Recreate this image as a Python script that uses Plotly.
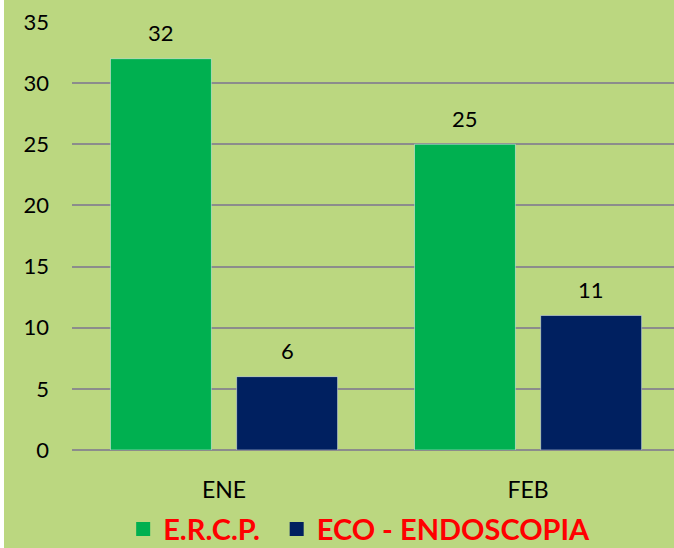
import plotly.graph_objects as go

MESES = ['ENE', 'FEB']
ERCP = [32, 25]
ECO_ENDOSCOPIA = [6, 11]

COLOR_ERCP = '#00B050'
COLOR_ECO = '#002060'
COLOR_BG = '#BBD780'
FONT = 'Lato, Open Sans, sans-serif'

fig = go.Figure()
fig.add_trace(go.Bar(
    name='E.R.C.P.',
    x=MESES,
    y=ERCP,
    marker_color=COLOR_ERCP,
    showlegend=False,
))
fig.add_trace(go.Bar(
    name='ECO - ENDOSCOPIA',
    x=MESES,
    y=ECO_ENDOSCOPIA,
    marker_color=COLOR_ECO,
    showlegend=False,
))

# entradas de leyenda con cuadrados grandes (una leyenda por serie)
for nombre, color, ley in [('E.R.C.P.', COLOR_ERCP, 'legend'),
                           ('ECO - ENDOSCOPIA', COLOR_ECO, 'legend2')]:
    fig.add_trace(go.Scatter(
        name=nombre, x=[None], y=[None], mode='markers', legend=ley,
        marker=dict(symbol='square', size=14, color=color),
    ))

# etiquetas de valor sobre cada barra
for serie, shift in [(ERCP, -63), (ECO_ENDOSCOPIA, 63)]:
    for mes, val in zip(MESES, serie):
        fig.add_annotation(x=mes, y=val, text=str(val), showarrow=False,
                           xshift=shift, yshift=26, yanchor='middle',
                           font=dict(size=22, color='black'))

ley_font = dict(size=29, color='#FF0000', family=FONT, weight='bold')
fig.update_layout(
    width=674,
    height=548,
    barmode='group',
    bargap=0.17,
    bargroupgap=0.2,
    paper_bgcolor=COLOR_BG,
    plot_bgcolor=COLOR_BG,
    font=dict(family=FONT, size=22, color='black'),
    margin=dict(t=22, b=98, l=72, r=0, autoexpand=False),
    showlegend=True,
    legend=dict(orientation='h', xanchor='left', x=0.085, yanchor='middle',
                y=-0.185, font=ley_font, itemwidth=30),
    legend2=dict(orientation='h', xanchor='left', x=0.34, yanchor='middle',
                 y=-0.185, font=ley_font, itemwidth=30),
)
fig.update_yaxes(
    range=[0, 35],
    dtick=5,
    showgrid=True,
    gridcolor='#8C8C8C',
    gridwidth=1.5,
    zeroline=True,
    zerolinecolor='#8C8C8C',
    zerolinewidth=1.5,
    ticklabelstandoff=22,
)
fig.update_xaxes(
    range=[-0.5, 1.48],
    showline=False,
    ticks='',
    ticklabelstandoff=24,
    tickfont=dict(size=23),
)
fig.add_shape(type='rect', xref='paper', yref='paper',
              x0=-72 / 602, x1=-68 / 602, y0=-98 / 428, y1=1 + 22 / 428,
              fillcolor='white', line_width=0, layer='above')

fig.write_html('out.html', config={'displayModeBar': False},
               post_script="document.body.style.margin='0';")
